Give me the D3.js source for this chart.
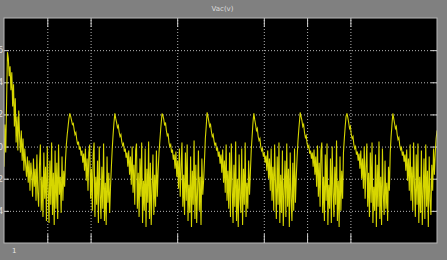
<!DOCTYPE html>
<html>
<head>
<meta charset="utf-8">
<script src="https://cdn.jsdelivr.net/npm/d3@7"></script>
<style>
    html, body { margin: 0; padding: 0; background: #808080; overflow: hidden; }
    svg { display: block; }
</style>
</head>
<body>
<div class="scope"></div>
<script>
// scope samples, one every 0.02 s; each segment starts at its own time
const sampleStep = 0.02;
const segmentStarts = [0, 1.52, 2.56, 3.65, 4.69, 5.77, 6.84, 7.92, 8.98];
const vacStartup = [-20, 22, -6, 45, 94, 88, 70, 80, 56, 74,
    40, 62, 20, 48, 4, 30, -4, 36, 10, -6,
    16, -14, 8, -24, -2, -18, -30, -10, -36, -14,
    -44, -16, -28, -50, -12, -40, -22, -54, -8, -46,
    -60, -18, 2, -64, -30, -70, -6, -52, -20, -74,
    0, -42, -76, -14, -58, 4, -68, -26, -78, -4,
    -62, -16, -72, 2, -48, -30, -66, -10, -54, -24,
    -40, -14, 2, 12, 20, 28];
const vacCycle1 = [33, 30, 26, 22, 23, 17, 12, 14, 7, 2, 5, -3, 0, -9, -4, -16, -7, -24, -2, -34,
    -12, -44, -6, 2, -52, -22, -64, -8, 4, -70, -30, -58, -14, -76, 0, -48, -72, -20, -62, 3,
    -74, -36, -78, -10, -56, -26, -66, -40, -20, -2, 12, 24];
const vacCycle2 = [33, 28, 24, 19, 21, 14, 10, 12, 5, 1, 3, -5, -2, -11, -6, -20, -4, -28, -10, -38,
    0, -46, -18, -58, -4, 3, -62, -26, -70, -12, -50, 4, -76, -34, -64, -2, -80, -22, -56, 5,
    -72, -16, -78, -42, -8, -68, -28, -60, -4, -50, -24, -6, 6, 18, 28];
const vacCycle3 = [33, 31, 27, 21, 24, 16, 11, 13, 4, 0, 2, -6, -3, -13, -8, -22, -5, -30, -14, -42,
    -2, -50, -20, 4, -60, -28, -68, -6, -54, 2, -74, -38, -66, -10, -80, -24, -58, 6, -72, -18,
    -76, -44, -4, -64, -30, -78, -12, -48, -34, -14, 8, 20];
const vacCycle4 = [34, 30, 25, 20, 22, 15, 10, 12, 6, 1, 4, -4, -1, -10, -5, -17, -8, -26, -3, -36,
    -14, -46, 2, -54, -24, -62, -6, -70, 3, -40, -76, -18, -60, 5, -74, -32, -80, -8, -52, -66,
    -2, -78, -22, -58, 4, -70, -36, -62, -14, -48, -26, -4, 10, 24];
const vacCycle5 = [33, 27, 22, 16, 18, 10, 6, 8, 0, -4, -2, -10, -6, -16, -9, -24, -4, -32, -12, -44,
    -2, -54, -20, -64, 2, -36, -72, -10, -58, 4, -76, -28, -66, -4, -79, -46, -14, -70, 3, -60,
    -22, -80, -6, -52, -74, -16, -64, -2, -56, -30, -10, 6, 18, 28];
const vacCycle6 = [34, 30, 26, 20, 22, 14, 9, 11, 3, -1, 1, -7, -4, -12, -6, -20, -3, -28, -10, -40,
    1, -50, -16, -60, -4, 4, -66, -30, -74, -8, -54, 3, -78, -38, -62, -12, -76, 0, -46, -70,
    -20, -58, 6, -74, -34, -80, -10, -64, -24, -52, -6, 8, 20, 30];
const vacCycle7 = [33, 29, 24, 18, 20, 12, 8, 10, 2, -2, 0, -8, -5, -14, -7, -22, -4, -32, -12, -42,
    0, -52, -22, 3, -60, -26, -70, -6, -56, 4, -76, -40, -64, -8, -80, -18, -60, 5, -72, -30,
    -78, -2, -48, -68, -14, -62, -36, -74, -20, -44, -6, 10, 22];
const vacCycle8 = [33, 28, 23, 18, 20, 12, 7, 9, 1, -3, -1, -9, -5, -15, -8, -24, -3, -34, -12, -44,
    2, -54, -20, -64, 4, -38, -70, -8, -58, 3, -76, -30, -66, -4, -78, -46, -12, -72, 2, -60,
    -24, -80, -10, -54, -68, -18, -44, -2, -28, -6, 8, 16];

const timeRange = [0, 10];
const voltRange = [-96, 128];
const gridTimes = [1, 2, 4, 6, 7, 8];
const gridVolts = [-64, -32, 0, 32, 64, 96];
const titleText = 'Vac(v)';
const timeLabel = '1';

let segments = [vacStartup, vacCycle1, vacCycle2, vacCycle3, vacCycle4,
    vacCycle5, vacCycle6, vacCycle7, vacCycle8];
let points = [];
segments.forEach(function(seg, k) {
    seg.forEach(function(v, i) {
        points.push({t: segmentStarts[k] + i * sampleStep, v: v});
    });
});

let margins = {top: 18, right: 10, bottom: 17, left: 4},
    baseWidth = 447,
    baseHeight = 260,
    width = baseWidth - margins.left - margins.right,
    height = baseHeight - margins.top - margins.bottom;

let svg = d3.select('.scope').append('svg')
    .attr('width', baseWidth)
    .attr('height', baseHeight);

svg.append('rect')
    .attr('width', baseWidth)
    .attr('height', baseHeight)
    .attr('fill', '#808080');

// title above the axes
svg.append('text')
    .text(titleText)
    .attr('x', margins.left + width / 2 + 2)
    .attr('y', 11)
    .attr('text-anchor', 'middle')
    .attr('fill', '#dedede')
    .attr('style', 'font: 7px "DejaVu Sans", sans-serif;');

let chartLayer = svg.append('g')
    .attr('transform', 'translate(' + margins.left + ',' + margins.top + ')');

chartLayer.append('rect')
    .attr('width', width)
    .attr('height', height)
    .attr('fill', '#000000');

let x = d3.scaleLinear().domain(timeRange).range([0, width]);
let y = d3.scaleLinear().domain(voltRange).range([height, 0]);

// dotted grid
let xGrid = chartLayer.append('g')
    .attr('transform', 'translate(0,' + height + ')')
    .call(d3.axisBottom(x).tickValues(gridTimes).tickSize(-height).tickFormat(''));
xGrid.select('.domain').remove();
xGrid.selectAll('line')
    .attr('stroke', '#b4b4b4')
    .attr('stroke-dasharray', '1,2');

let yGrid = chartLayer.append('g')
    .call(d3.axisLeft(y).tickValues(gridVolts).tickSize(-width).tickFormat(''));
yGrid.select('.domain').remove();
yGrid.selectAll('line')
    .attr('stroke', '#b4b4b4')
    .attr('stroke-dasharray', '1,2');

// short solid ticks on the frame
let tickColor = '#d0d0d0';
let topTicks = chartLayer.append('g')
    .call(d3.axisTop(x).tickValues(gridTimes).tickSize(-9).tickFormat(''));
let bottomTicks = chartLayer.append('g')
    .attr('transform', 'translate(0,' + height + ')')
    .call(d3.axisBottom(x).tickValues(gridTimes).tickSize(-9).tickFormat(''));
let rightTicks = chartLayer.append('g')
    .attr('transform', 'translate(' + width + ',0)')
    .call(d3.axisRight(y).tickValues(gridVolts).tickSize(-6).tickFormat(''));
let leftTicks = chartLayer.append('g')
    .call(d3.axisLeft(y).tickValues(gridVolts).tickSize(-5).tickPadding(1));
[topTicks, bottomTicks, rightTicks, leftTicks].forEach(function(g) {
    g.select('.domain').remove();
    g.selectAll('line').attr('stroke', tickColor);
});
leftTicks.selectAll('text')
    .attr('fill', '#e0e0e0')
    .attr('style', 'font: 8px "DejaVu Sans", sans-serif;');

// the signal
chartLayer.append('clipPath')
    .attr('id', 'plot-clip')
    .append('rect')
    .attr('width', width)
    .attr('height', height);

let line = d3.line()
    .x(function(d) { return x(d.t); })
    .y(function(d) { return y(d.v); });

chartLayer.append('path')
    .datum(points)
    .attr('clip-path', 'url(#plot-clip)')
    .attr('fill', 'none')
    .attr('stroke', '#d6d600')
    .attr('stroke-width', 1.1)
    .attr('d', line);

// frame
chartLayer.append('rect')
    .attr('width', width)
    .attr('height', height)
    .attr('fill', 'none')
    .attr('stroke', '#b8b8b8')
    .attr('stroke-width', 1);

svg.append('text')
    .text(timeLabel)
    .attr('x', margins.left + 8)
    .attr('y', margins.top + height + 10)
    .attr('fill', '#e6e6e6')
    .attr('style', 'font: 7px "DejaVu Sans", sans-serif;');
</script>
</body>
</html>
